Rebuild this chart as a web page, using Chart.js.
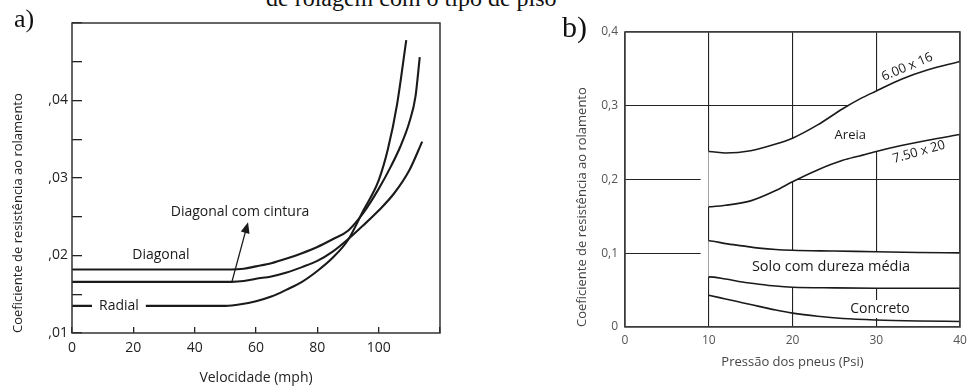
<!DOCTYPE html>
<html>
<head>
<meta charset="utf-8">
<script src="https://cdn.jsdelivr.net/npm/chart.js"></script>
<style>
  html, body { margin: 0; padding: 0; background: #fff; }
  body { width: 973px; height: 388px; position: relative; overflow: hidden; }
  canvas { position: absolute; top: 0; }
  #chartA { left: 0; }
  #chartB { left: 540px; }
  .serif { position: absolute; font-family: 'Liberation Serif', 'Times New Roman', serif; color: #111; white-space: nowrap; line-height: 1; }
  #caption { left: 266px; top: -14px; font-size: 24px; }
  #tagA { left: 14px; top: 6px; font-size: 26px; }
  #tagB { left: 562px; top: 12px; font-size: 30px; }
</style>
</head>
<body>
<div id="caption" class="serif">de rolagem com o tipo de piso</div>
<canvas id="chartA" width="470" height="388"></canvas>
<canvas id="chartB" width="433" height="388"></canvas>
<div id="tagA" class="serif">a)</div>
<div id="tagB" class="serif">b)</div>
<script>
/* --- DATA: a) coeficiente x velocidade --- */
const SPEED_DIAGONAL = [0, 52, 56, 60, 65, 70, 75, 80, 85, 90, 95, 100, 104, 107, 110, 112, 113.4];
const DIAGONAL = [0.0182, 0.0182, 0.0183, 0.0186, 0.0190, 0.0196, 0.0203, 0.0211, 0.0221, 0.0232, 0.0255, 0.0286, 0.0315, 0.0340, 0.0372, 0.0405, 0.0456];

const SPEED_BELTED = [0, 52, 56, 60, 65, 70, 75, 80, 85, 90, 95, 100, 105, 110, 114.2];
const BELTED = [0.0166, 0.0166, 0.0167, 0.0170, 0.0173, 0.0178, 0.0185, 0.0193, 0.0205, 0.0221, 0.0239, 0.0258, 0.0280, 0.0310, 0.0347];

const SPEED_RADIAL = [0, 50, 55, 60, 65, 70, 75, 80, 85, 90, 95, 100, 103, 106, 109];
const RADIAL = [0.0135, 0.0135, 0.0137, 0.0141, 0.0147, 0.0156, 0.0166, 0.0180, 0.0197, 0.0220, 0.0258, 0.0297, 0.0337, 0.0395, 0.0478];

const A_X_TICKS = [0, 20, 40, 60, 80, 100, 120];
const A_X_LABELS = ['0', '20', '40', '60', '80', '100', ''];
const A_Y_TICKS = [0.01, 0.015, 0.02, 0.025, 0.03, 0.035, 0.04, 0.045, 0.05];
const A_Y_LABELS = [',01', '', ',02', '', ',03', '', ',04', '', ''];

/* --- DATA: b) coeficiente x pressão --- */
const PSI_AREIA = [9, 10, 12, 15, 18, 20, 23, 26, 28, 30, 33, 36, 40];
const TIRE_600x16 = [0.238, 0.238, 0.236, 0.239, 0.248, 0.256, 0.274, 0.296, 0.309, 0.320, 0.336, 0.348, 0.360];
const TIRE_750x20 = [0.163, 0.163, 0.165, 0.171, 0.185, 0.197, 0.213, 0.226, 0.232, 0.238, 0.246, 0.253, 0.261];

const PSI_SOLO = [9, 10, 12, 14, 16, 18, 20, 25, 30, 35, 40];
const SOLO_TOP = [0.117, 0.117, 0.113, 0.110, 0.107, 0.105, 0.104, 0.103, 0.102, 0.101, 0.1005];
const SOLO_BOTTOM = [0.068, 0.068, 0.065, 0.061, 0.058, 0.0555, 0.054, 0.053, 0.0525, 0.0525, 0.0525];

const PSI_CONCRETO = [10, 12, 14, 16, 18, 20, 23, 26, 30, 35, 40];
const CONCRETO = [0.043, 0.038, 0.033, 0.028, 0.023, 0.0188, 0.0145, 0.0115, 0.0095, 0.0082, 0.0075];

const B_X_TICKS = [0, 10, 20, 30, 40];
const B_Y_TICKS = [0, 0.1, 0.2, 0.3, 0.4];
const B_Y_LABELS = ['0', '0,1', '0,2', '0,3', '0,4'];

const FONT = "'Open Sans', 'Noto Sans', sans-serif";
const INK = '#1a1a1a';
const pts = (xs, ys) => xs.map((x, i) => ({ x, y: ys[i] }));

/* --- PLUGINS --- */
const notes = {
  id: 'notes',
  afterDatasetsDraw(chart, args, opts) {
    const { ctx, scales: { x, y } } = chart;
    (opts.arrows || []).forEach(a => {
      const x1 = x.getPixelForValue(a.from[0]), y1 = y.getPixelForValue(a.from[1]);
      const x2 = x.getPixelForValue(a.to[0]), y2 = y.getPixelForValue(a.to[1]);
      const ang = Math.atan2(y2 - y1, x2 - x1);
      ctx.save();
      ctx.strokeStyle = INK; ctx.fillStyle = INK; ctx.lineWidth = 1.3;
      ctx.beginPath(); ctx.moveTo(x1, y1); ctx.lineTo(x2 - 8 * Math.cos(ang), y2 - 8 * Math.sin(ang)); ctx.stroke();
      ctx.translate(x2, y2); ctx.rotate(ang);
      ctx.beginPath(); ctx.moveTo(0, 0); ctx.lineTo(-11, -4.5); ctx.lineTo(-11, 4.5); ctx.closePath(); ctx.fill();
      ctx.restore();
    });
    (opts.items || []).forEach(n => {
      ctx.save();
      ctx.translate(x.getPixelForValue(n.x), y.getPixelForValue(n.y));
      ctx.rotate((n.angle || 0) * Math.PI / 180);
      ctx.font = n.font;
      ctx.textAlign = 'center';
      ctx.textBaseline = 'middle';
      if (n.bg) {
        const w = ctx.measureText(n.text).width + n.bg * 2;
        ctx.fillStyle = '#fff';
        ctx.fillRect(-w / 2, -9, w, 18);
      }
      ctx.fillStyle = INK;
      ctx.fillText(n.text, 0, 0);
      ctx.restore();
    });
  }
};

const frame = {
  id: 'frame',
  afterDatasetsDraw(chart, args, opts) {
    const { ctx, chartArea: a } = chart;
    ctx.save();
    ctx.strokeStyle = opts.color;
    ctx.lineWidth = opts.width;
    ctx.strokeRect(a.left, a.top, a.right - a.left, a.bottom - a.top);
    ctx.restore();
  }
};

function curve(label, xs, ys, width, extra) {
  return Object.assign({
    label, data: pts(xs, ys),
    borderColor: INK, borderWidth: width,
    pointRadius: 0, fill: false,
    cubicInterpolationMode: 'monotone'
  }, extra || {});
}

/* --- CHART A --- */
new Chart(document.getElementById('chartA'), {
  type: 'line',
  data: {
    datasets: [
      curve('Diagonal', SPEED_DIAGONAL, DIAGONAL, 2.1),
      curve('Diagonal com cintura', SPEED_BELTED, BELTED, 2.1),
      curve('Radial', SPEED_RADIAL, RADIAL, 2.1)
    ]
  },
  options: {
    responsive: false,
    animation: false,
    layout: { padding: { top: 23, right: 30, left: 0, bottom: 0 } },
    plugins: {
      legend: { display: false },
      tooltip: { enabled: false },
      frame: { color: '#333', width: 1.5 },
      notes: {
        items: [
          { text: 'Diagonal', x: 29.0, y: 0.0201, font: `14px ${FONT}` },
          { text: 'Diagonal com cintura', x: 54.8, y: 0.0256, font: `14px ${FONT}` },
          { text: 'Radial', x: 15.3, y: 0.01348, font: `14px ${FONT}`, bg: 7 }
        ],
        arrows: [{ from: [52.2, 0.0167], to: [57.4, 0.0243] }]
      }
    },
    scales: {
      x: {
        type: 'linear', min: 0, max: 120,
        afterBuildTicks: s => { s.ticks = A_X_TICKS.map(v => ({ value: v })); },
        afterFit: s => { s.height = 55; },
        border: { display: false },
        grid: { drawOnChartArea: false, tickLength: -6, color: '#222', lineWidth: 1.3 },
        ticks: { padding: 13, color: '#222', font: { family: FONT, size: 14 }, maxRotation: 0, autoSkip: false,
          callback: (v, i) => A_X_LABELS[i] },
        title: { display: true, text: 'Velocidade (mph)', color: '#222', font: { family: FONT, size: 14 }, padding: { top: 0, bottom: 2 } }
      },
      y: {
        min: 0.01, max: 0.05,
        afterBuildTicks: s => { s.ticks = A_Y_TICKS.map(v => ({ value: v })); },
        afterFit: s => { s.width = 72; },
        border: { display: false },
        grid: { drawOnChartArea: false, tickLength: -10, color: '#222', lineWidth: 1.3 },
        ticks: { padding: 14, color: '#222', font: { family: FONT, size: 14 }, autoSkip: false,
          callback: (v, i) => A_Y_LABELS[i] },
        title: { display: true, align: 'start', text: 'Coeficiente de resistência ao rolamento', color: '#222',
          font: { family: FONT, size: 13 }, padding: { top: 10, bottom: 0 } }
      }
    }
  },
  plugins: [notes, frame]
});

/* --- CHART B --- */
const hideLead = { borderColor: c => c.p0.parsed.x < 10 ? 'rgba(0,0,0,0)' : INK };

new Chart(document.getElementById('chartB'), {
  type: 'line',
  data: {
    datasets: [
      curve('6.00 x 16', PSI_AREIA, TIRE_600x16, 1.6, { fill: '+1', backgroundColor: '#fff', segment: hideLead }),
      curve('7.50 x 20', PSI_AREIA, TIRE_750x20, 1.6, { segment: hideLead }),
      curve('Solo com dureza média', PSI_SOLO, SOLO_TOP, 1.6, { fill: '+1', backgroundColor: '#fff', segment: hideLead }),
      curve('Solo (inferior)', PSI_SOLO, SOLO_BOTTOM, 1.6, { segment: hideLead }),
      curve('Concreto', PSI_CONCRETO, CONCRETO, 1.6)
    ]
  },
  options: {
    responsive: false,
    animation: false,
    layout: { padding: { top: 32, right: 13, left: 0, bottom: 0 } },
    plugins: {
      legend: { display: false },
      tooltip: { enabled: false },
      filler: { drawTime: 'beforeDatasetsDraw' },
      frame: { color: '#444', width: 1.6 },
      notes: {
        items: [
          { text: '6.00 x 16', x: 33.7, y: 0.3525, angle: -23, font: `13px ${FONT}` },
          { text: 'Areia', x: 26.9, y: 0.2603, font: `13px ${FONT}` },
          { text: '7.50 x 20', x: 35.1, y: 0.2373, angle: -16, font: `13px ${FONT}` },
          { text: 'Solo com dureza média', x: 24.6, y: 0.0814, font: `14.5px ${FONT}` },
          { text: 'Concreto', x: 30.45, y: 0.0244, font: `14px ${FONT}`, bg: 3 }
        ]
      }
    },
    scales: {
      x: {
        type: 'linear', min: 0, max: 40,
        afterBuildTicks: s => { s.ticks = B_X_TICKS.map(v => ({ value: v })); },
        afterFit: s => { s.height = 61; },
        border: { display: false },
        grid: { drawTicks: false, color: '#222', lineWidth: 1.1 },
        ticks: { padding: 6, color: '#555', font: { family: FONT, size: 12 }, maxRotation: 0, autoSkip: false },
        title: { display: true, text: 'Pressão dos pneus (Psi)', color: '#444', font: { family: FONT, size: 13 }, padding: { top: 0, bottom: 18 } }
      },
      y: {
        min: 0, max: 0.4,
        afterBuildTicks: s => { s.ticks = B_Y_TICKS.map(v => ({ value: v })); },
        afterFit: s => { s.width = 85; },
        border: { display: false },
        grid: { drawTicks: false, color: '#222', lineWidth: 1.1 },
        ticks: { padding: 7, color: '#555', font: { family: FONT, size: 12 }, autoSkip: false,
          callback: (v, i) => B_Y_LABELS[i] },
        title: { display: true, align: 'start', text: 'Coeficiente de resistência ao rolamento', color: '#444',
          font: { family: FONT, size: 13 }, padding: { top: 34, bottom: 0 } }
      }
    }
  },
  plugins: [notes, frame]
});
</script>
</body>
</html>
